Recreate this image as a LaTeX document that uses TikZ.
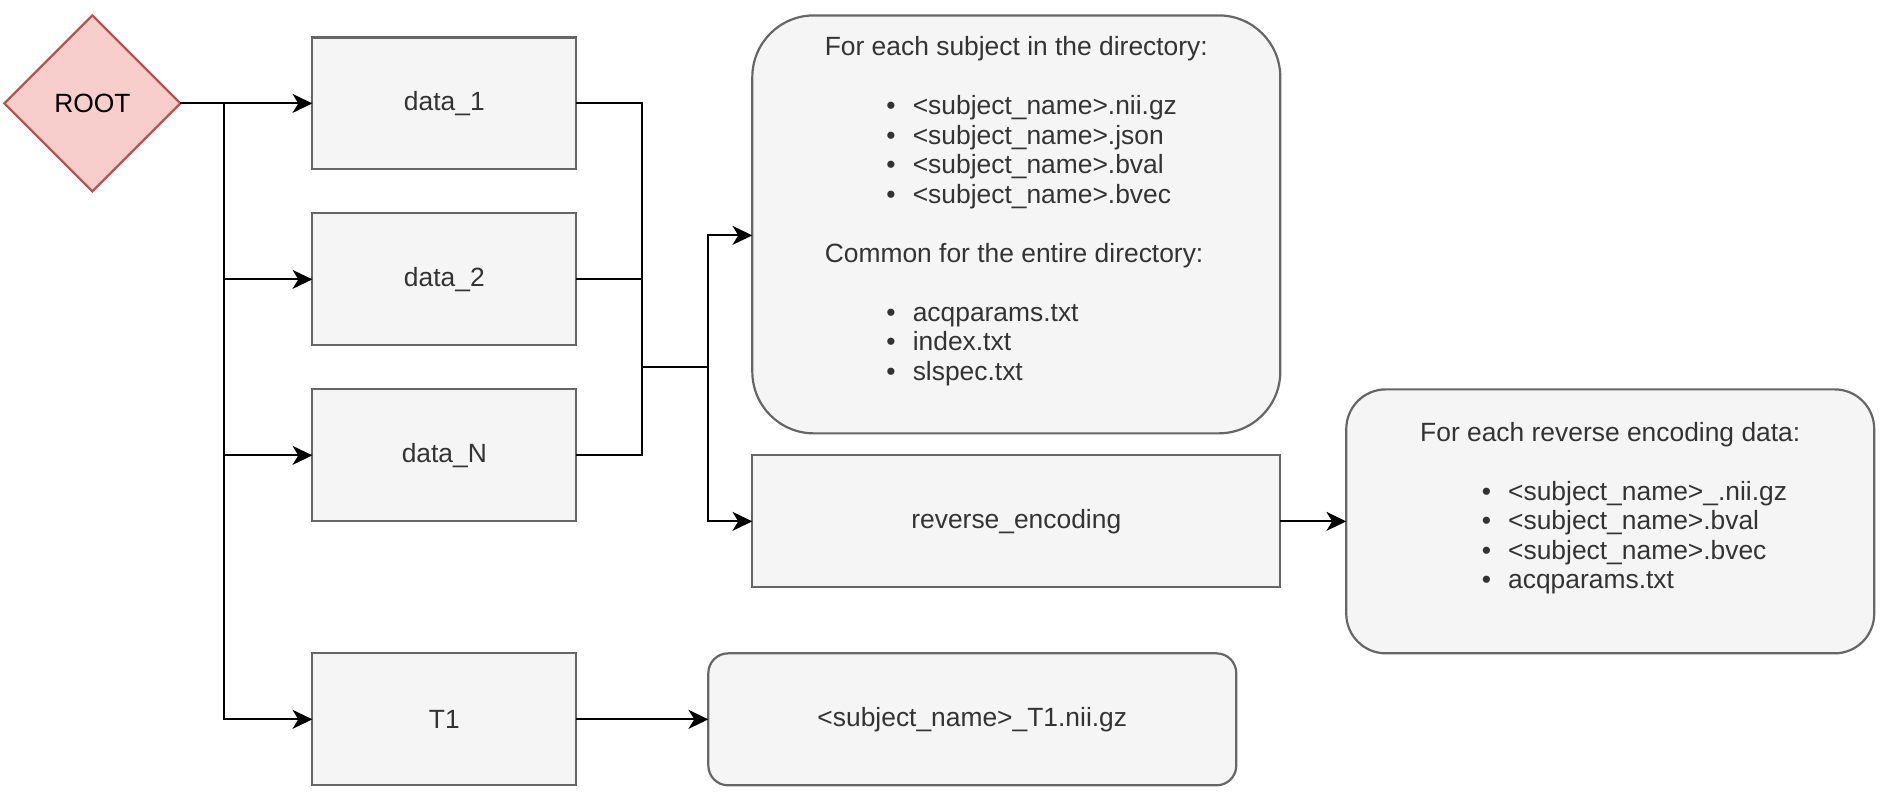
\documentclass[tikz,border=0pt]{standalone}
\usepackage{fontspec}
\setmainfont{Liberation Sans}
\usetikzlibrary{positioning,shapes.geometric,arrows.meta}

\definecolor{boxfill}{HTML}{F5F5F5}
\definecolor{boxline}{HTML}{666666}
\definecolor{boxtext}{HTML}{333333}
\definecolor{rootfill}{HTML}{F8CECC}
\definecolor{rootline}{HTML}{B85450}

\newcommand{\fileitem}[1]{\makebox[40pt][l]{\hspace{28pt}\textbullet}#1}

\begin{document}
\begin{tikzpicture}[x=1pt,y=1pt,>={Stealth[length=9pt,width=8.6pt,inset=2.6pt]},
    every node/.style={font=\fontsize{12}{13.4}\selectfont,outer sep=0pt},
    folder/.style={rectangle,draw=boxline,fill=boxfill,text=boxtext,line width=1pt,
      minimum width=120pt,minimum height=60pt},
    filebox/.style={folder,rounded corners=#1,minimum width=240pt},
    wire/.style={line width=1pt}]
      \useasboundingbox (-42,47) rectangle (819,-320.7);
      \node[diamond,draw=rootline,fill=rootfill,line width=1pt,inner sep=0pt,
        minimum width=80pt,minimum height=80pt] (root) at (0,0) {ROOT};
      \node[folder,right=60pt of root] (d1) {data\_1};
      \node[folder,below=20pt of d1] (d2) {data\_2};
      \node[folder,below=20pt of d2] (dN) {data\_N};
      \node[folder,below=60pt of dN] (t1) {T1};

      \node[filebox=28pt,minimum height=190pt] (subj) at (420,-55) {};
      \node[text=boxtext,align=left] (subjlist) at ([yshift=6pt]subj.center)
      {For each subject in the directory:\\[13.4pt]
        \fileitem{\textless subject\_name\textgreater.nii.gz}\\
        \fileitem{\textless subject\_name\textgreater.json}\\
        \fileitem{\textless subject\_name\textgreater.bval}\\
        \fileitem{\textless subject\_name\textgreater.bvec}\\[13.4pt]
        Common for the entire directory:\\[13.4pt]
        \fileitem{acqparams.txt}\\
        \fileitem{index.txt}\\
        \fileitem{slspec.txt}};
      \node[folder,minimum width=240pt,below=10pt of subj] (rev) {reverse\_encoding};
      \node[filebox=18pt,minimum height=120pt,right=30pt of rev] (revfiles) {};
      \node[text=boxtext,align=left] (revlist) at ([yshift=6pt]revfiles.center)
      {For each reverse encoding data:\\[13.4pt]
        \fileitem{\textless subject\_name\textgreater\_.nii.gz}\\
        \fileitem{\textless subject\_name\textgreater.bval}\\
        \fileitem{\textless subject\_name\textgreater.bvec}\\
        \fileitem{acqparams.txt}};
      \node[filebox=9pt,minimum height=60pt,right=60pt of t1] (t1file)
      {\textless subject\_name\textgreater\_T1.nii.gz};

      % root to the data folders
      \draw[wire,->] (root) -- (d1);
      \coordinate (bus) at ([xshift=20pt]root.east);
      \draw[wire,->] (bus) |- (d2);
      \draw[wire,->] (bus) |- (dN);
      \draw[wire,->] (bus) |- (t1);

      % data folders to their contents
      \draw[wire] (d1.east) -- ++(30,0) coordinate (col) |- (dN.east);
      \draw[wire] (d2.east) -- (d2.east -| col);
      \coordinate (merge) at ([yshift=40pt]dN.east -| col);
      \draw[wire] (merge) -- ++(30,0) coordinate (split);
      \draw[wire,->] (split) |- ([yshift=-5pt]subj.west);
      \draw[wire,->] (split) |- (rev);
      \draw[wire,->] (rev) -- (revfiles);
      \draw[wire,->] (t1) -- (t1file);
    \end{tikzpicture}
\end{document}
